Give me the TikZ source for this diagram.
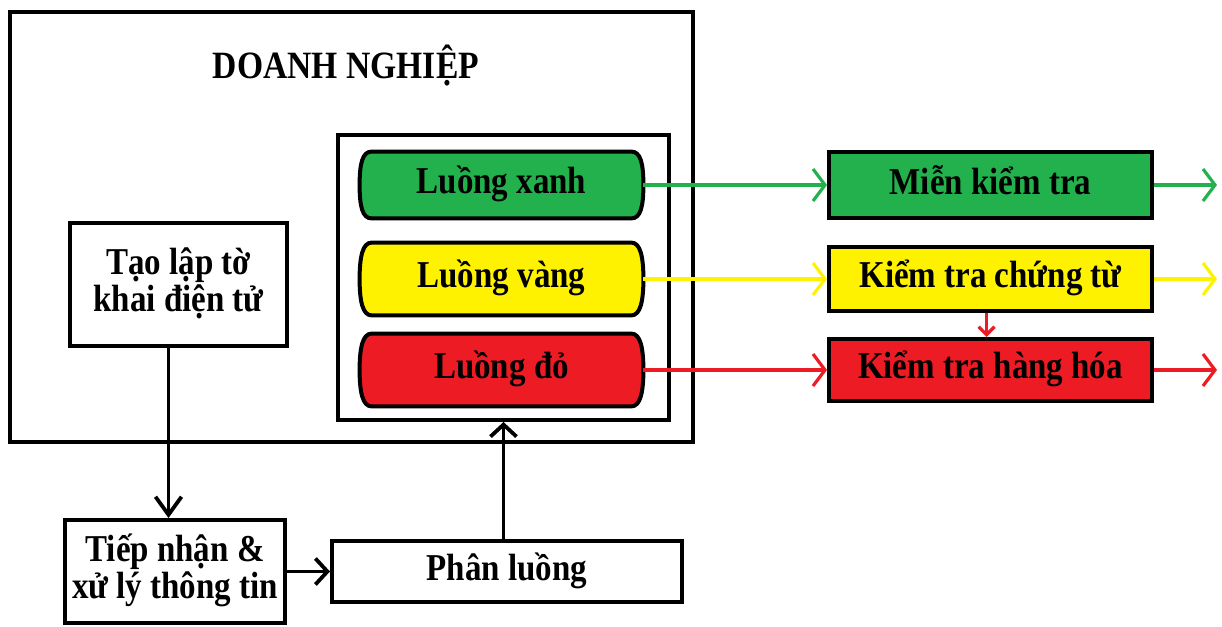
\documentclass[tikz,border=0pt]{standalone}
\usepackage{fontspec}
\setmainfont{Liberation Serif}
\usetikzlibrary{arrows.meta,backgrounds,calc}
\definecolor{pgreen}{RGB}{34,177,76}
\definecolor{pyellow}{RGB}{255,242,0}
\definecolor{pred}{RGB}{237,28,36}
\newcommand\vs[1]{\scalebox{1}[1.15]{\begin{tabular}{@{}c@{}}#1\end{tabular}}}
\newcommand\laneshape[2]{%
  \path[draw=black, fill=#2, line width=2pt]
    ([xshift=6pt]#1.north west) -- ([xshift=-6pt]#1.north east)
    .. controls ([xshift=-1.5pt]#1.north east) and ([yshift=11pt]#1.east) .. (#1.east)
    .. controls ([yshift=-11pt]#1.east) and ([xshift=-1.5pt]#1.south east) .. ([xshift=-6pt]#1.south east)
    -- ([xshift=6pt]#1.south west)
    .. controls ([xshift=1.5pt]#1.south west) and ([yshift=-11pt]#1.west) .. (#1.west)
    .. controls ([yshift=11pt]#1.west) and ([xshift=1.5pt]#1.north west) .. cycle;}
\begin{document}
\begin{tikzpicture}[x=0.5pt,y=-0.5pt,
  txt/.style={font=\fontsize{16.5}{15.2}\selectfont\bfseries, align=center},
  box/.style={txt, draw, line width=2pt, inner sep=0pt},
  lanenode/.style={txt, inner sep=0pt, minimum width=141.5pt},
  carrow/.style={line width=1.6pt, -{Straight Barb[length=6pt,width=16pt]}},
  barrow/.style={line width=1.9pt, -{Straight Barb[length=6pt,width=13pt]}},
]
\useasboundingbox (0,0) rectangle (1222,627);

% enterprise frame
\node[box, minimum width=341.5pt, minimum height=215pt] (dn) at (351.5,227) {};
\node[txt, font=\fontsize{16.8}{16}\selectfont\bfseries] (title) at (346,67) {\vs{DOANH NGHIỆP}};
\node[box, minimum width=165.5pt, minimum height=142.5pt] (inner) at (503.5,277.5) {};

% lanes
\node[lanenode, minimum height=33pt] (lx) at (501.5,185) {\vs{Luồng xanh}};
\node[lanenode, minimum height=36pt] (lv) at (501.5,279) {\vs{Luồng vàng}};
\node[lanenode, minimum height=36pt] (ld) at (501.5,370) {\vs{Luồng đỏ}};
\begin{pgfonlayer}{background}
  \laneshape{lx}{pgreen}
  \laneshape{lv}{pyellow}
  \laneshape{ld}{pred}
\end{pgfonlayer}

% left process
\node[box, minimum width=108.5pt, minimum height=61.5pt] (tl) at (178.5,284.5) {\vs{Tạo lập tờ\\khai điện tử}};
\node[box, minimum width=110pt, minimum height=51.5pt] (tn) at (175,571.5) {\vs{Tiếp nhận \&\\xử lý thông tin}};
\node[box, minimum width=175pt, minimum height=30.5pt] (pl) at (507,571.5) {\vs{Phân luồng}};

% results
\node[box, fill=pgreen, minimum width=161.5pt, minimum height=33pt] (mk) at (990.5,185) {\vs{Miễn kiểm tra}};
\node[box, fill=pyellow, minimum width=161.5pt, minimum height=32pt] (ct) at (990.5,279) {\vs{Kiểm tra chứng từ}};
\node[box, fill=pred, minimum width=161.5pt, minimum height=31pt] (th) at (990.5,370) {\vs{Kiểm tra hàng hóa}};

\coordinate (end) at (1217,0);

% connectors
\draw[barrow, -{Straight Barb[length=9pt,width=13pt]}] ([xshift=-5pt]tl.south) -- ([xshift=-5pt]tl.south |- tn.north);
\draw[barrow] (tn.east) -- (pl.west);
\draw[barrow] (inner.south |- pl.north) -- (inner.south);

\draw[carrow, pgreen] (lx.east) -- (mk.west);
\draw[carrow, pyellow] (lv.east) -- (ct.west);
\draw[carrow, pred] (ld.east) -- (th.west);
\draw[carrow, pgreen] (mk.east) -- (mk.east -| end);
\draw[carrow, pyellow] (ct.east) -- (ct.east -| end);
\draw[carrow, pred] (th.east) -- (th.east -| end);
\draw[pred, line width=1.6pt, -{Straight Barb[length=4pt,width=8pt]}] ([xshift=-2pt]ct.south) -- ([xshift=-2pt]ct.south |- th.north);
\end{tikzpicture}
\end{document}
